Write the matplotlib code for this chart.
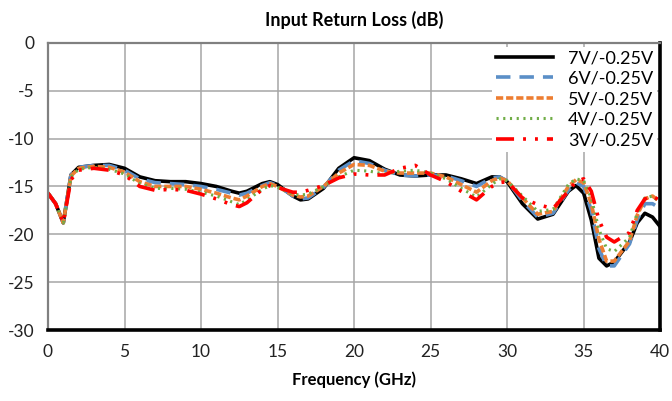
import numpy as np
import matplotlib.pyplot as plt

plt.rcParams['font.family'] = ['Lato', 'DejaVu Sans']
plt.rcParams['axes.unicode_minus'] = False

freq = [0, 0.5, 1.0, 1.5, 2, 3, 4, 5, 6, 7, 8, 9, 10, 11, 12, 12.5, 13, 14, 14.5, 15,
        16, 16.5, 17, 18, 19, 20, 21, 22, 23, 24, 25, 26, 27, 28, 29, 29.5, 30, 31, 32, 33,
        34, 34.5, 35, 35.5, 36, 36.5, 37, 38, 38.5, 39, 39.5, 40]

s7v = [-15.7, -16.8, -18.8, -13.8, -13.0, -12.8, -12.7, -13.1, -14.0, -14.4, -14.5, -14.5,
       -14.7, -15.0, -15.5, -15.7, -15.5, -14.7, -14.5, -14.8, -16.0, -16.4, -16.3, -15.2,
       -13.1, -12.0, -12.3, -13.2, -13.8, -13.9, -13.8, -13.8, -14.2, -14.7, -14.0, -14.0,
       -14.5, -16.8, -18.4, -17.9, -15.5, -14.9, -15.7, -18.5, -22.5, -23.3, -22.9, -20.8,
       -18.8, -17.8, -18.2, -19.2]
s6v = [-15.7, -16.8, -18.8, -13.8, -13.0, -12.8, -12.8, -13.3, -14.2, -14.6, -14.7, -14.8,
       -15.0, -15.3, -15.7, -15.9, -15.7, -14.9, -14.6, -14.9, -16.0, -16.3, -16.2, -15.1,
       -13.3, -12.3, -12.6, -13.3, -13.8, -13.9, -13.8, -13.9, -14.4, -15.0, -14.1, -14.0,
       -14.4, -16.5, -18.2, -17.8, -15.4, -14.6, -15.0, -17.5, -21.5, -23.3, -23.3, -21.0,
       -18.5, -16.8, -16.8, -17.3]
s5v = [-15.7, -16.8, -18.8, -13.9, -13.1, -12.9, -13.0, -13.5, -14.5, -15.0, -15.0, -15.0,
       -15.3, -15.7, -16.2, -16.4, -16.0, -15.0, -14.7, -15.0, -15.9, -16.1, -16.0, -15.0,
       -13.6, -12.7, -12.8, -13.4, -13.6, -13.6, -13.6, -14.0, -14.8, -15.6, -14.4, -14.1,
       -14.4, -16.2, -17.9, -17.6, -15.0, -14.3, -14.6, -16.8, -20.5, -22.8, -22.8, -20.7,
       -18.0, -16.3, -16.0, -16.6]
s4v = [-15.7, -16.8, -18.8, -14.0, -13.2, -13.0, -13.2, -13.7, -14.7, -15.2, -15.2, -15.3,
       -15.6, -16.0, -16.6, -16.9, -16.4, -15.3, -14.9, -15.1, -15.8, -15.9, -15.8, -15.0,
       -14.0, -13.3, -13.4, -13.7, -13.4, -13.3, -13.6, -14.2, -15.2, -16.1, -14.8, -14.2,
       -14.4, -16.0, -17.6, -17.4, -14.8, -14.2, -14.4, -16.2, -19.5, -21.5, -21.8, -20.3,
       -17.8, -16.2, -16.0, -16.7]
s3v = [-15.7, -16.8, -18.8, -14.3, -13.3, -13.1, -13.3, -13.8, -15.0, -15.4, -15.3, -15.4,
       -15.8, -16.3, -16.9, -17.1, -16.7, -15.3, -14.9, -15.1, -15.6, -15.6, -15.4, -14.9,
       -14.1, -13.7, -13.8, -13.8, -13.1, -12.8, -13.8, -14.5, -15.5, -16.4, -15.0, -14.6,
       -14.5, -16.2, -16.9, -17.3, -15.5, -14.5, -14.2, -15.5, -18.5, -20.3, -20.8, -19.8,
       -17.5, -16.3, -16.0, -16.5]

labels = ['7V/-0.25V', '6V/-0.25V', '5V/-0.25V', '4V/-0.25V', '3V/-0.25V']

fig = plt.figure(figsize=(6.72, 4.01), dpi=100)
ax = fig.add_axes([0.0714, 0.177, 0.911, 0.716])

ax.plot(freq, s7v, color='black', lw=2.6, ls='-', label=labels[0])
ax.plot(freq, s6v, color='#5b8fc7', lw=2.6, ls=(0, (4, 2.5)), label=labels[1])
ax.plot(freq, s5v, color='#ed7d31', lw=2.6, ls=(0, (2, 0.8)), label=labels[2])
ax.plot(freq, s4v, color='#70ad47', lw=2.2, ls=(0, (0.7, 1.5)), label=labels[3])
ax.plot(freq, s3v, color='#ff0000', lw=2.6, ls=(0, (5, 2.5, 0.8, 2.5, 0.8, 2.5)), label=labels[4])

ax.set_xlim(0, 40)
ax.set_ylim(-30, 0)
ax.set_xticks(np.arange(0, 41, 5))
ax.set_yticks(np.arange(-30, 1, 5))
ax.grid(True, color='#a6a6a6', lw=1.1)
ax.set_axisbelow(True)
ax.tick_params(length=0, labelsize=12.5, pad=10, colors='#222222')

for side in ['left', 'top']:
    ax.spines[side].set_color('#808080')
    ax.spines[side].set_linewidth(1.6)
for side in ['bottom', 'right']:
    ax.spines[side].set_color('black')
    ax.spines[side].set_linewidth(2.6)

ax.set_title('Input Return Loss (dB)', fontsize=13, fontweight='bold', pad=12)
ax.set_xlabel('Frequency (GHz)', fontsize=12, fontweight='bold', labelpad=8)

leg = ax.legend(loc='upper right', fontsize=13, frameon=True, fancybox=False,
                framealpha=1, edgecolor='none', borderaxespad=0.2,
                handlelength=3.2, labelspacing=0.25, borderpad=0.2)

fig.savefig('out.png', dpi=100)
